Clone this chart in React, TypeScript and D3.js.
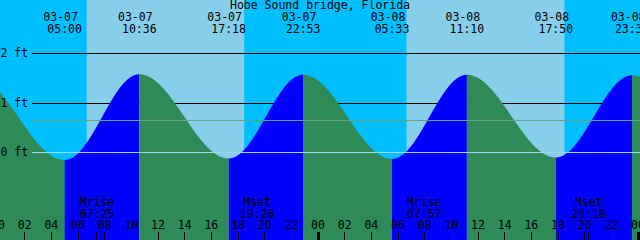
import React from "react";
import * as d3 from "d3";

const title = "Hobe Sound bridge, Florida";

// Tide extremes (local time, MM-DD HH:MM) and heights in feet
const tideTimes = [
  "03-06 22:03",
  "03-07 05:00",
  "03-07 10:36",
  "03-07 17:18",
  "03-07 22:53",
  "03-08 05:33",
  "03-08 11:10",
  "03-08 17:50",
  "03-08 23:34",
  "03-09 06:08",
];
const tideHeights = [1.58, -0.15, 1.58, -0.12, 1.57, -0.13, 1.57, -0.1, 1.56, -0.12];

const sunriseTimes = ["03-07 06:39", "03-08 06:38"];
const sunsetTimes = ["03-07 18:28", "03-08 18:29"];

const moonEvents = ["Mrise", "Mset", "Mrise", "Mset"];
const moonTimes = ["03-07 07:25", "03-07 19:26", "03-08 07:57", "03-08 20:18"];

const heightTicks = [0, 1, 2];
const meanLevel = 0.65;
const hourTicks = d3.range(0, 49, 2);

const W = 640;
const H = 240;

const NIGHT = "#00BFFF";
const DAY = "#87CEEB";
const RISE = "#0000FF";
const FALL = "#2E8B57";
const MEAN = "#62A384";
const DATUM = "#A4D3EE";
const FONT = "DejaVu Sans Mono, monospace";

function parseT(s: string): number {
  const [md, hm] = s.split(" ");
  const day = parseInt(md.split("-")[1], 10) - 7;
  const [hh, mm] = hm.split(":").map((v) => parseInt(v, 10));
  return day * 24 + hh + mm / 60;
}

const tT = tideTimes.map(parseT);

function tideAt(t: number): number {
  let i = 0;
  while (i < tT.length - 2 && t > tT[i + 1]) i++;
  const u = (t - tT[i]) / (tT[i + 1] - tT[i]);
  return tideHeights[i] + (tideHeights[i + 1] - tideHeights[i]) * (1 - Math.cos(Math.PI * u)) / 2;
}

export default function App() {
  const x = d3.scaleLinear().domain([0, 48]).range([-2, 638]);
  const y = d3.scaleLinear().domain([0, 2]).range([152.5, 53.5]);
  const crisp = (v: number) => Math.floor(v) + 0.5;

  // sky bands
  const rises = sunriseTimes.map(parseT);
  const sets = sunsetTimes.map(parseT);
  const dayBands = rises.map((r, i) => [x(r), x(sets[i])]);

  // tide segments
  const area = d3
    .area<[number, number]>()
    .x((d) => d[0])
    .y0(H)
    .y1((d) => d[1]);
  const segs: { d: string; color: string }[] = [];
  for (let i = 0; i < tT.length - 1; i++) {
    const x0 = Math.max(x(tT[i]), 0);
    const x1 = Math.min(x(tT[i + 1]), W);
    if (x1 <= x0) continue;
    const pts: [number, number][] = [];
    for (let px = x0; px < x1; px += 0.5) pts.push([px, y(tideAt(x.invert(px)))]);
    pts.push([x1, y(tideAt(x.invert(x1)))]);
    const rising = tideHeights[i + 1] > tideHeights[i];
    segs.push({ d: area(pts) || "", color: rising ? RISE : FALL });
  }

  const tideLabels = tideTimes
    .map((s, i) => ({ s, t: tT[i] }))
    .filter((e) => x(e.t) > -20 && x(e.t) < W + 20);

  return (
    <svg
      width={W}
      height={H}
      style={{ position: "absolute", left: 0, top: 0, display: "block" }}
      fontFamily={FONT}
      fontSize={11.5}
    >
      <rect x={0} y={0} width={W} height={H} fill={NIGHT} />
      {dayBands.map(([a, b], i) => (
        <rect key={i} x={a} y={0} width={b - a} height={H} fill={DAY} />
      ))}
      {heightTicks
        .filter((h) => h !== 0)
        .map((h) => (
          <line key={h} x1={32} x2={W} y1={crisp(y(h))} y2={crisp(y(h))} stroke="#000" strokeWidth={1} />
        ))}
      {segs.map((s, i) => (
        <path key={i} d={s.d} fill={s.color} />
      ))}
      <line x1={32} x2={W} y1={crisp(y(meanLevel))} y2={crisp(y(meanLevel))} stroke={MEAN} strokeWidth={1} />
      <line x1={32} x2={W} y1={crisp(y(0))} y2={crisp(y(0))} stroke={DATUM} strokeWidth={1} />
      {heightTicks.map((h) => (
        <text key={h} x={0.5} y={crisp(y(h)) + 3.5} fill="#000">
          {`${h} ft`}
        </text>
      ))}
      <text x={W / 2} y={9} textAnchor="middle" fill="#000">
        {title}
      </text>
      {tideLabels.map((e, i) => (
        <g key={i}>
          <text x={x(e.t) - 4} y={20.7} textAnchor="middle" fill="#000">
            {e.s.split(" ")[0]}
          </text>
          <text x={x(e.t)} y={33.3} textAnchor="middle" fill="#000">
            {e.s.split(" ")[1]}
          </text>
        </g>
      ))}
      {moonTimes.map((s, i) => {
        const t = parseT(s);
        return (
          <g key={i}>
            <text x={x(t)} y={206} textAnchor="middle" fill="#000">
              {moonEvents[i]}
            </text>
            <text x={x(t)} y={217.7} textAnchor="middle" fill="#000">
              {s.split(" ")[1]}
            </text>
            <line x1={crisp(x(t))} x2={crisp(x(t))} y1={232} y2={H} stroke="#000" strokeWidth={1} />
          </g>
        );
      })}
      {hourTicks.map((h) => (
        <g key={h}>
          <text x={x(h)} y={229.3} textAnchor="middle" fill="#000">
            {String(h % 24).padStart(2, "0")}
          </text>
          <line
            x1={crisp(x(h))}
            x2={crisp(x(h))}
            y1={232}
            y2={H}
            stroke="#000"
            strokeWidth={h % 24 === 0 ? 3 : 1}
          />
        </g>
      ))}
    </svg>
  );
}
